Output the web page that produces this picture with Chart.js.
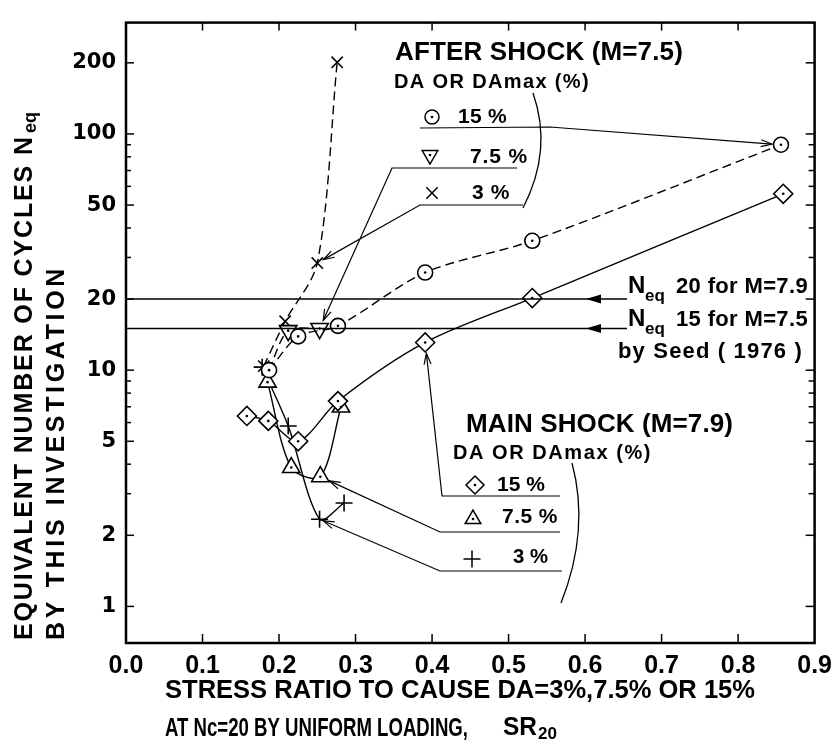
<!DOCTYPE html>
<html><head><meta charset="utf-8">
<script src="https://cdn.jsdelivr.net/npm/chart.js@4.4.1/dist/chart.umd.min.js"></script>
<style>html,body{margin:0;padding:0;background:#fff;}#wrap{width:840px;height:745px;}</style>
</head><body><div id="wrap"><canvas id="c" width="840" height="745"></canvas></div>
<script>
// ---------- data ----------
const xTickValues = [0.0,0.1,0.2,0.3,0.4,0.5,0.6,0.7,0.8,0.9];
const yTickLabels = [1,2,5,10,20,50,100,200];
const yMinorTicks = [3,4,6,7,8,9,30,40,60,70,80,90];
// After shock (M=7.5)  [SR20, Neq]
const afterDA15 = [[0.187,10.0],[0.225,13.9],[0.277,15.4],[0.391,25.9],[0.531,35.3],[0.856,90]];
const afterDA75 = [[0.187,10.0],[0.212,14.7],[0.253,15.0]];
const afterDA3  = [[0.180,10.4],[0.208,16.1],[0.250,28.4],[0.276,201]];
// Main shock (M=7.9)
const mainDA15 = [[0.158,6.4],[0.186,6.1],[0.225,5.0],[0.277,7.4],[0.391,13.1],[0.531,20.2],[0.859,55.8]];
const mainDA75 = [[0.185,8.9],[0.216,3.87],[0.254,3.54],[0.281,6.98]];
const mainDA3  = [[0.178,10.3],[0.212,5.8],[0.253,2.34],[0.285,2.74]];
// Seed (1976) reference levels
const seedLevels = [20, 15];

const toXY = a => a.map(p => ({x:p[0], y:p[1]}));
const FONT = "'Liberation Sans', Arial, sans-serif";

function ds(label, arr, style, dashed, radius, extra){
  return Object.assign({
    label, data: toXY(arr), showLine: true,
    borderColor:'#000', borderWidth:1.4, borderDash: dashed ? [9,5] : [],
    pointStyle: style, pointRadius: radius, pointBorderWidth: 1.6,
    pointBackgroundColor:'#fff', pointBorderColor:'#000',
    tension: 0.3, fill:false
  }, extra||{});
}

const datasets = [
  ds('After 15%', afterDA15, 'circle', true, 7.5, {centerDot:true}),
  ds('After 7.5%', afterDA75, 'triangle', true, 10, {centerDot:true, rotation:180,
      pointRadius: c => c.dataIndex===0 ? 0 : 10}),
  ds('After 3%', afterDA3, 'crossRot', true, 8),
  ds('Main 15%', mainDA15, 'rectRot', false, 9.5, {centerDot:true}),
  ds('Main 7.5%', mainDA75, 'triangle', false, 10, {centerDot:true}),
  ds('Main 3%', mainDA3, 'cross', false, 8.5),
];

function line(ctx,x1,y1,x2,y2){ctx.beginPath();ctx.moveTo(x1,y1);ctx.lineTo(x2,y2);ctx.stroke();}
function arrowHead(ctx,x1,y1,x2,y2,filled,len,half){
  const ang=Math.atan2(y2-y1,x2-x1);
  const bx=x2-len*Math.cos(ang), by=y2-len*Math.sin(ang);
  const nx=-Math.sin(ang)*half, ny=Math.cos(ang)*half;
  ctx.beginPath();ctx.moveTo(bx+nx,by+ny);ctx.lineTo(x2,y2);ctx.lineTo(bx-nx,by-ny);
  if(filled){ctx.closePath();ctx.fill();}else ctx.stroke();
}
function fitText(ctx,txt,x,y,w,font){
  ctx.font=font; ctx.letterSpacing='0px';
  const m=ctx.measureText(txt).width;
  if(w && m<w){
    const n=[...txt].length;
    ctx.letterSpacing=((w-m)/n).toFixed(2)+'px';
    ctx.fillText(txt,x,y);
    ctx.letterSpacing='0px';
  } else if(w){ ctx.fillText(txt,x,y,w); }
  else ctx.fillText(txt,x,y);
}

const decor = {
  id:'decor',
  afterDatasetsDraw(chart){
    const ctx=chart.ctx;
    ctx.save(); ctx.fillStyle='#000';
    chart.data.datasets.forEach((d,i)=>{
      if(!d.centerDot) return;
      const meta=chart.getDatasetMeta(i);
      meta.data.forEach((pt,j)=>{
        if(d===datasets[1] && j===0) return;
        ctx.beginPath();ctx.arc(pt.x,pt.y,1.3,0,Math.PI*2);ctx.fill();
      });
    });
    ctx.restore();
  },
  afterDraw(chart){
    const ctx=chart.ctx, xs=chart.scales.x, ys=chart.scales.y, a=chart.chartArea;
    const P = p => ({x:xs.getPixelForValue(p[0]), y:ys.getPixelForValue(p[1])});
    ctx.save();
    ctx.strokeStyle='#000'; ctx.fillStyle='#000';
    // frame
    ctx.lineWidth=2.5; ctx.strokeRect(a.left,a.top,a.right-a.left,a.bottom-a.top);
    // inward ticks
    ctx.lineWidth=1.5;
    xTickValues.forEach(v=>{ if(v<=0||v>=0.9) return; const X=xs.getPixelForValue(v);
      line(ctx,X,a.bottom,X,a.bottom-9); line(ctx,X,a.top,X,a.top+8); });
    yTickLabels.forEach(v=>{ const Y=ys.getPixelForValue(v);
      line(ctx,a.left,Y,a.left+8,Y); line(ctx,a.right,Y,a.right-9,Y); });
    yMinorTicks.forEach(v=>{ const Y=ys.getPixelForValue(v);
      line(ctx,a.left,Y,a.left+5,Y); line(ctx,a.right,Y,a.right-6,Y); });

    // Seed reference lines with left-pointing arrows
    ctx.lineWidth=1.4;
    seedLevels.forEach(v=>{
      const Y=ys.getPixelForValue(v);
      line(ctx,a.left,Y,627,Y);
      arrowHead(ctx,627,Y,586,Y,true,15,4.5);
    });

    // helper: pointer from label underline to a data point
    function pointer(pts, target, gap, head){
      const t=P(target);
      const last=pts[pts.length-1];
      const dx=t.x-last[0], dy=t.y-last[1], d=Math.hypot(dx,dy);
      const ex=t.x-dx/d*gap, ey=t.y-dy/d*gap;
      ctx.beginPath(); ctx.moveTo(pts[0][0],pts[0][1]);
      for(let i=1;i<pts.length;i++) ctx.lineTo(pts[i][0],pts[i][1]);
      ctx.lineTo(ex,ey); ctx.stroke();
      if(head) arrowHead(ctx,last[0],last[1],ex,ey,false,11,3.5);
    }
    ctx.lineWidth=1.2;
    pointer([[420,128],[550,127]], afterDA15[5], 9, true);
    pointer([[517,168],[392,168]], afterDA75[2], 9, true);
    pointer([[523,205],[420,205]], afterDA3[2], 7, true);
    pointer([[560,496],[442,496]], mainDA15[4], 11, true);
    pointer([[560,532],[440,532]], mainDA75[2], 10, true);
    pointer([[562,571],[440,571]], mainDA3[2], 4, true);

    // brackets
    ctx.lineWidth=1.3;
    ctx.beginPath();ctx.moveTo(533,93);ctx.quadraticCurveTo(553,150,523,208);ctx.stroke();
    ctx.beginPath();ctx.moveTo(572,463);ctx.quadraticCurveTo(590,530,561,603);ctx.stroke();

    // legend symbols
    function drawSym(style,x,y,r,rot,dot){
      ctx.save(); ctx.fillStyle='#fff'; ctx.strokeStyle='#000'; ctx.lineWidth=1.5;
      Chart.helpers.drawPoint(ctx,{pointStyle:style,rotation:rot||0,radius:r,borderWidth:1.5},x,y);
      if(dot){ctx.fillStyle='#000';ctx.beginPath();ctx.arc(x,y,1.3,0,Math.PI*2);ctx.fill();}
      ctx.restore();
    }
    drawSym('circle',432,117,7,0,true);
    drawSym('triangle',430,155,9,180,true);
    drawSym('crossRot',432,193,8,0,false);
    drawSym('rectRot',475,485,9,0,true);
    drawSym('triangle',473,519,9,0,true);
    drawSym('cross',472,559,8.5,0,false);

    // texts
    ctx.fillStyle='#000'; ctx.textBaseline='middle'; ctx.textAlign='left';
    const B = s => `bold ${s}px ${FONT}`;
    fitText(ctx,'AFTER SHOCK (M=7.5)',395,53,288,B(26));
    fitText(ctx,'DA OR DAmax (%)',394,82,196,B(20));
    fitText(ctx,'15 %',458,117,49,B(21));
    fitText(ctx,'7.5 %',470,157,58,B(21));
    fitText(ctx,'3 %',472,193,38,B(21));
    fitText(ctx,'MAIN SHOCK (M=7.9)',466,425,267,B(26));
    fitText(ctx,'DA OR DAmax (%)',453,453,199,B(20));
    fitText(ctx,'15 %',497,485,48,B(21));
    fitText(ctx,'7.5 %',502,517,56,B(21));
    fitText(ctx,'3 %',513,557,35,B(21));
    // Neq labels
    [[287,'20 for M=7.9'],[320,'15 for M=7.5']].forEach(([y,t])=>{
      ctx.font=B(24); ctx.fillText('N',628,y-1);
      ctx.font=B(17); ctx.fillText('eq',645,y+9);
      fitText(ctx,t,676,y,132,B(22));
    });
    fitText(ctx,'by Seed ( 1976 )',618,352,185,B(22));

    // x-axis title
    fitText(ctx,'STRESS RATIO TO CAUSE DA=3%,7.5% OR 15%',165,691,590,B(26));
    fitText(ctx,'AT Nc=20 BY UNIFORM LOADING,',165,729,303,B(26));
    ctx.font=B(26); ctx.fillText('SR',503,728,34);
    ctx.font=B(17); ctx.fillText('20',538,734);

    // y-axis title (rotated)
    ctx.save(); ctx.translate(25,640); ctx.rotate(-Math.PI/2);
    fitText(ctx,'EQUIVALENT NUMBER OF CYCLES N',0,0,505,B(25));
    ctx.font=B(18); ctx.fillText('eq',507,6);
    ctx.restore();
    ctx.save(); ctx.translate(57,640); ctx.rotate(-Math.PI/2);
    fitText(ctx,'BY THIS INVESTIGATION',0,0,375,B(25));
    ctx.restore();
    ctx.restore();
  }
};

new Chart(document.getElementById('c'), {
  type:'scatter',
  data:{datasets},
  options:{
    responsive:false, animation:false, devicePixelRatio:1,
    layout:{padding:{top:13,right:18,left:0,bottom:0}},
    plugins:{legend:{display:false},tooltip:{enabled:false}},
    scales:{
      x:{type:'linear',min:0,max:0.9,
        afterBuildTicks: s => { s.ticks = xTickValues.map(v=>({value:v})); },
        afterFit: s => { s.height = 102; },
        grid:{display:false,drawTicks:false}, border:{display:false},
        ticks:{padding:8,color:'#000',font:{family:FONT,size:25,weight:'bold'},
          callback:v=>Number(v).toFixed(1), maxRotation:0, autoSkip:false}},
      y:{type:'logarithmic',min:0.708,max:296,
        afterBuildTicks: s => { s.ticks = yTickLabels.map(v=>({value:v})); },
        afterFit: s => { s.width = 126; },
        grid:{display:false,drawTicks:false}, border:{display:false},
        ticks:{padding:10,color:'#000',font:{family:"'DejaVu Sans', sans-serif",size:21,weight:'bold'},
          callback:v=>String(v), autoSkip:false}}
    }
  },
  plugins:[decor]
});
</script></body></html>
